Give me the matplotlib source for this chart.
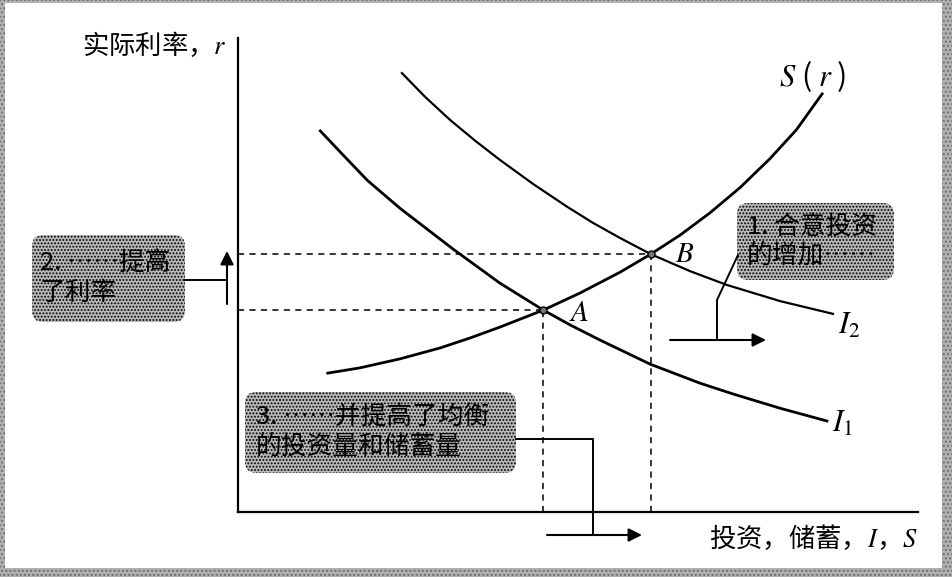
import matplotlib
matplotlib.use('Agg')
import matplotlib.pyplot as plt
from matplotlib.patches import Rectangle, FancyBboxPatch

plt.rcParams['font.family'] = ['Noto Sans CJK SC', 'DejaVu Sans']
plt.rcParams['mathtext.fontset'] = 'stix'
plt.rcParams['hatch.color'] = '#6c6c6c'
plt.rcParams['hatch.linewidth'] = 0.9

s_x = [1.32, 1.79, 2.38, 2.97, 3.41, 3.85, 4.49, 5.03, 5.62, 6.07, 6.50, 6.94,
       7.38, 7.82, 8.21, 8.59]
s_r = [2.93, 3.04, 3.23, 3.46, 3.67, 3.90, 4.26, 4.62, 5.06, 5.44, 5.84, 6.31,
       6.84, 7.45, 8.06, 8.82]
i1_x = [1.21, 1.50, 1.90, 2.38, 3.16, 3.85, 4.49, 4.88, 5.32, 6.06, 6.79, 7.28,
        7.97, 8.66]
i1_r = [8.04, 7.60, 7.00, 6.41, 5.55, 4.83, 4.26, 3.95, 3.63, 3.12, 2.72, 2.49,
        2.19, 1.92]
i2_x = [2.41, 2.75, 3.12, 3.49, 3.85, 4.34, 4.84, 5.22, 5.62, 6.07, 6.65, 7.19,
        7.97, 8.75]
i2_r = [9.26, 8.76, 8.27, 7.83, 7.43, 6.92, 6.44, 6.10, 5.78, 5.44, 5.08, 4.79,
        4.45, 4.18]

# equilibria A and B
eq_names = ['A', 'B']
eq_x = [4.49, 6.07]
eq_r = [4.26, 5.44]

y_label = '实际利率，$r$'
x_label = '投资，储蓄，$I$，$S$'
notes = ['2. ……提高\n了利率', '3. ……并提高了均衡\n的投资量和储蓄量', '1. 合意投资\n的增加……']


def draw_box(ax, x0, y0, x1, y1, text, tx):
    box = FancyBboxPatch((x0, y0), x1 - x0, y1 - y0,
                         boxstyle='round,pad=0,rounding_size=11',
                         facecolor='#b8b8b8', hatch='.....', lw=0)
    ax.add_patch(box)
    ax.text(tx, (y0 + y1) / 2, text, fontsize=18.5, ha='left', va='center',
            linespacing=1.15, color='black', fontweight='medium')


def arrow(ax, start, end):
    ax.annotate('', xy=end, xytext=start,
                arrowprops=dict(arrowstyle='-|>', color='black', lw=1.5,
                                mutation_scale=20, shrinkA=0, shrinkB=0))


fig = plt.figure(figsize=(9.52, 5.77), dpi=100)

# page background in pixel units
bg = fig.add_axes([0, 0, 1, 1])
bg.set_xlim(0, 952)
bg.set_ylim(577, 0)
bg.axis('off')
bg.add_patch(Rectangle((0, 0), 952, 577, facecolor='#b0b0b0', hatch='....', lw=0))
bg.add_patch(Rectangle((5, 3), 937, 565, facecolor='white', lw=0))

# main diagram
ax = fig.add_axes([238 / 952, 65 / 577, 680 / 952, 474 / 577])
ax.set_facecolor('none')
ax.set_xlim(0, 10)
ax.set_ylim(0, 10)
for side in ['top', 'right']:
    ax.spines[side].set_visible(False)
for side in ['left', 'bottom']:
    ax.spines[side].set_linewidth(1.6)
ax.set_xticks([])
ax.set_yticks([])

ax.plot(s_x, s_r, color='black', lw=2.0, solid_joinstyle='round')
ax.plot(i1_x, i1_r, color='black', lw=2.0, solid_joinstyle='round')
ax.plot(i2_x, i2_r, color='black', lw=1.6, solid_joinstyle='round')

for x, r in zip(eq_x, eq_r):
    ax.plot([0, x], [r, r], color='black', lw=1.1, ls=(0, (4, 3.5)))
    ax.plot([x, x], [0, r], color='black', lw=1.1, ls=(0, (4, 3.5)))
ax.plot(eq_x, eq_r, 'o', ms=5, mfc='#777777', mec='black', mew=1.0)

# labels
bg.text(82, 45, y_label, fontsize=19, ha='left', va='center')
bg.text(918, 538, x_label, fontsize=19, ha='right', va='center')
bg.text(779, 77, '$S$ ( $r$ )', fontsize=22, ha='left', va='center')
bg.text(569, 313, '$' + eq_names[0] + '$', fontsize=21, ha='left', va='center')
bg.text(675, 254, '$' + eq_names[1] + '$', fontsize=21, ha='left', va='center')
bg.text(838, 325, '$I_2$', fontsize=22, ha='left', va='center')
bg.text(832, 423, '$I_1$', fontsize=22, ha='left', va='center')

# annotation boxes with connectors
draw_box(bg, 32, 235, 185, 322, notes[0], 40)
bg.plot([185, 227], [280, 280], color='black', lw=1.4)
arrow(bg, (227, 304), (227, 251))

draw_box(bg, 245, 392, 516, 473, notes[1], 256)
bg.plot([516, 593, 593], [439, 439, 535], color='black', lw=1.4)
arrow(bg, (547, 535), (642, 535))

draw_box(bg, 737, 203, 894, 280, notes[2], 747)
bg.plot([738, 717, 717], [255, 300, 340], color='black', lw=1.4)
arrow(bg, (670, 340), (766, 340))

fig.savefig('out.png', dpi=100)
